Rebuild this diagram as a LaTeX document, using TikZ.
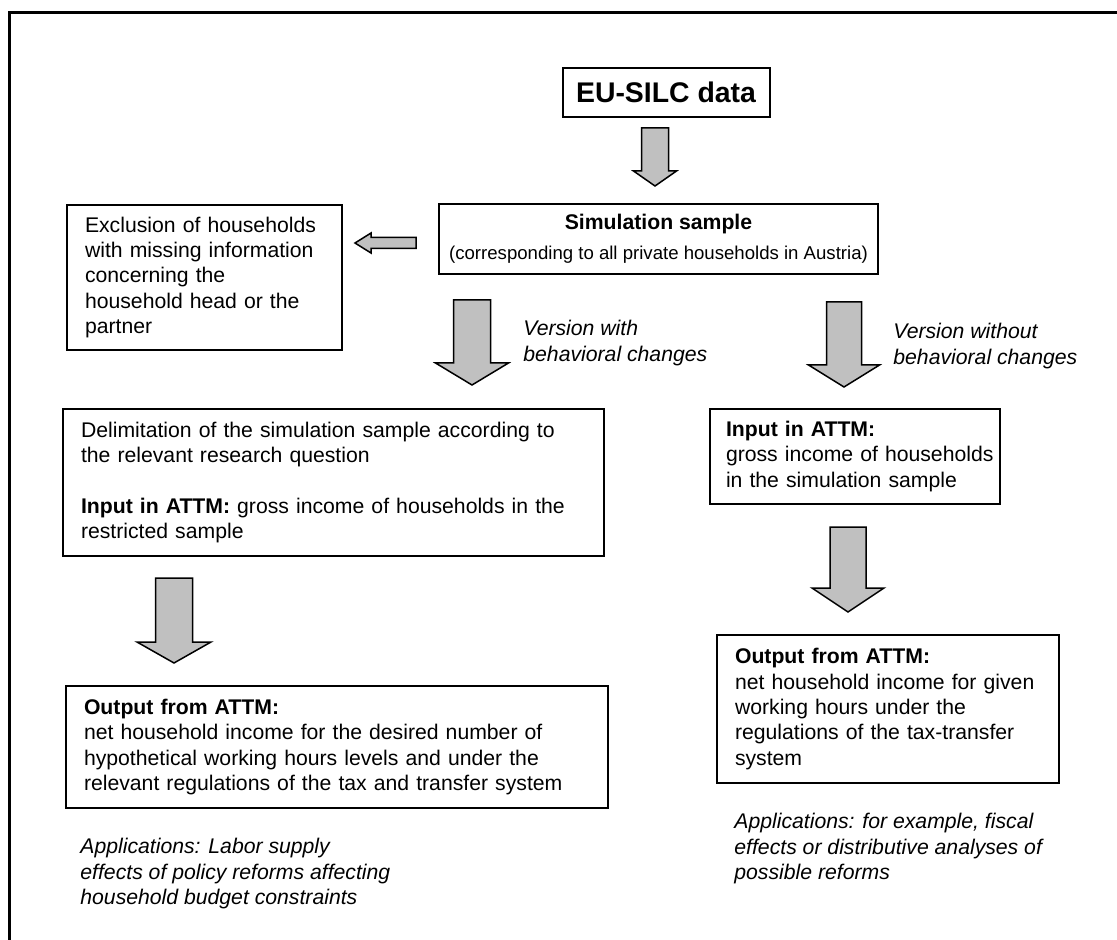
\documentclass[tikz,border=0pt]{standalone}
\usepackage{fontspec}
\setmainfont{Liberation Sans}
\usepackage{tikz}
\usetikzlibrary{positioning}
\definecolor{arrowgray}{RGB}{192,192,192}

% down block arrow: x, top, tip, shaft half, head half, head length
\newcommand{\downblock}[6]{%
	\filldraw[blockarrow] (#1-#4,#2) -- (#1+#4,#2) -- (#1+#4,#3-#6) -- (#1+#5,#3-#6)
		-- (#1,#3) -- (#1-#5,#3-#6) -- (#1-#4,#3-#6) -- cycle;}

\begin{document}
\begin{tikzpicture}[x=0.5pt,y=-0.5pt,font=\fontsize{10.6}{12.65}\selectfont]
	\tikzset{box/.style={draw, line width=1pt, inner xsep=9pt, inner ysep=0pt, anchor=north west, align=left},
		blockarrow/.style={draw, line width=0.75pt, fill=arrowgray, line join=miter},
		note/.style={inner sep=0pt, anchor=north west, align=left, font=\fontsize{10.6}{12.65}\selectfont\itshape}}
	\useasboundingbox (0,0) rectangle (1117,940);
	\draw[line width=1.5pt] (9.5,940) -- (9.5,12.5) -- (1117,12.5);

	\node[draw, line width=1pt, minimum width=103.5pt, minimum height=24.5pt, font=\fontsize{14.2}{16}\selectfont\bfseries] (eu) at (666,92.5) {EU-SILC data};
	\node[draw, line width=1pt, minimum width=219.5pt, minimum height=35pt, align=center, font=\fontsize{9.3}{15}\selectfont] (sim) at (658.5,239) {{\fontsize{10.6}{15}\selectfont\bfseries Simulation sample}\\(corresponding to all private households in Austria)};
	\node[box, text width=119.5pt, minimum height=72.5pt] (excl) at (66,204) {Exclusion of households\\with missing information\\concerning the\\household head or the\\partner};
	\node[box, text width=252.5pt, minimum height=73.5pt] (delim) at (62,408) {Delimitation of the simulation sample according to\\the relevant research question\\[12.65pt]\textbf{Input in ATTM:} gross income of households in the\\restricted sample};
	\node[box, inner xsep=8pt, text width=129pt, minimum height=47.5pt] (inR) at (709,408) {\textbf{Input in ATTM:}\\\mbox{gross income of households}\\in the simulation sample};
	\node[box, text width=253pt, minimum height=61pt] (outL) at (65,685) {\textbf{Output from ATTM:}\\net household income for the desired number of\\hypothetical working hours levels and under the\\relevant regulations of the tax and transfer system};
	\node[box, text width=153pt, minimum height=74pt] (outR) at (716,634) {\textbf{Output from ATTM:}\\\mbox{net household income for given}\\working hours under the\\regulations of the tax-transfer\\system};

	\node[note] (verL) at (523,320) {Version with\\behavioral changes};
	\node[note] (verR) at (893,323) {Version without\\behavioral changes};
	\node[note] (appL) at (80,838) {Applications: Labor supply\\effects of policy reforms affecting\\household budget constraints};
	\node[note] (appR) at (734,813) {Applications: for example, fiscal\\effects or distributive analyses of\\possible reforms};

	% block arrows
	\downblock{655}{128}{186}{13.5}{21.5}{15}
	\downblock{472}{300}{385}{18.5}{36.5}{22}
	\downblock{844}{302}{387}{17.5}{35.5}{22}
	\downblock{848}{527}{612}{18}{36}{24}
	\downblock{174}{578}{663}{18.5}{37}{21}
	\filldraw[blockarrow] (416,237.5) -- (416,248.5) -- (371,248.5) -- (371,253) -- (355,243)
		-- (371,233) -- (371,237.5) -- cycle;
\end{tikzpicture}
\end{document}
